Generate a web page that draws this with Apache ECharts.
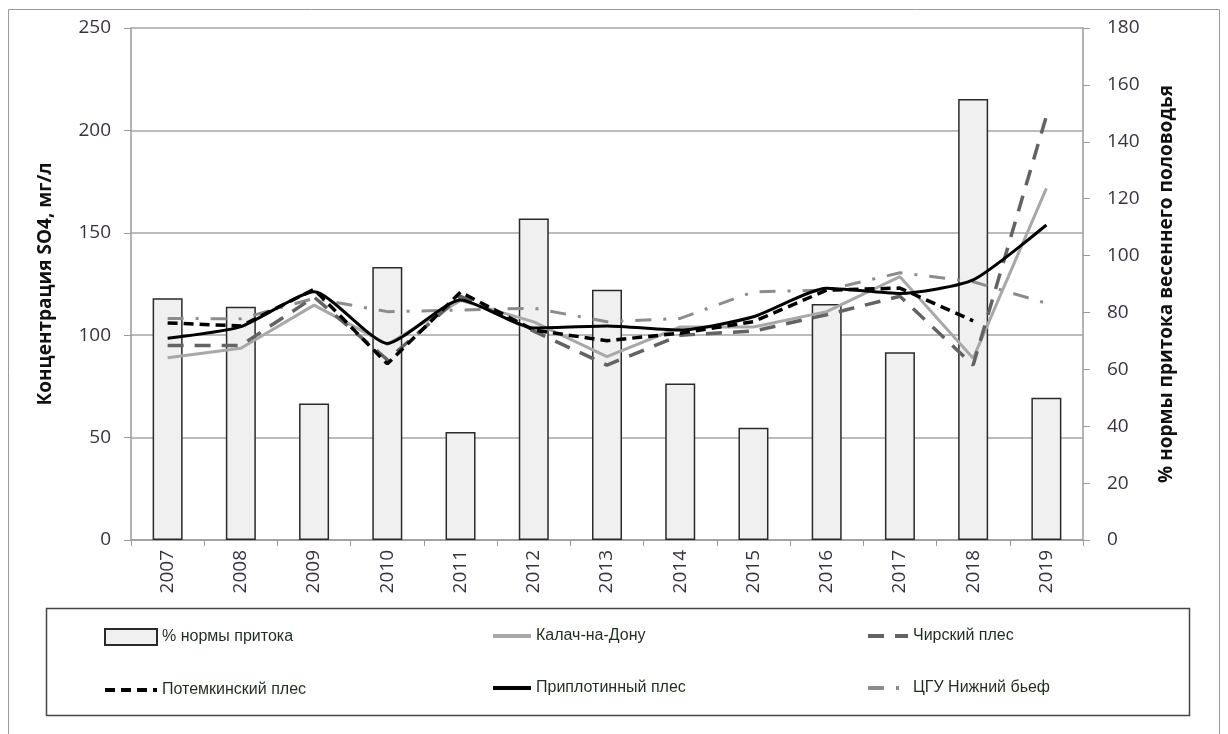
<!DOCTYPE html>
<html>
<head>
<meta charset="utf-8">
<script src="https://cdn.jsdelivr.net/npm/echarts@6/dist/echarts.min.js"></script>
<style>
html,body{margin:0;padding:0;background:#fff;}
#chart{width:1228px;height:734px;}
</style>
</head>
<body>
<div id="chart"></div>
<script>
const years = ['2007','2008','2009','2010','2011','2012','2013','2014','2015','2016','2017','2018','2019'];
const inflowPct = [85, 82, 48, 96, 38, 113, 88, 55, 39.5, 83, 66, 155, 50];
const kalach = [89, 93.6, 114.7, 95.5, 117, 106.5, 89.5, 104, 104, 111.5, 128.6, 88.7, 171.7];
const chirsky = [95, 95, 118.6, 88, 119, 102, 85.4, 100, 102, 110, 119, 85.4, 207];
const potemkin = [106, 104.5, 122.4, 86, 121, 102.5, 97.3, 101, 106.6, 122, 123, 107, null];
const priplot = [98.5, 104.2, 121.2, 96, 117.2, 103.5, 104.5, 102.5, 109, 122.9, 120.4, 127, 153.8];
const cgu = [108.2, 108, 118, 111.5, 112.3, 113.2, 106.6, 108.2, 121.2, 122, 130.5, 126.1, 115.6];
const leftTicks = {min: 0, max: 250, interval: 50};
const rightTicks = {min: 0, max: 180, interval: 20};

const names = ['% нормы притока','Калач-на-Дону','Чирский плес','Потемкинский плес','Приплотинный плес','ЦГУ Нижний бьеф'];
const labelColor = '#3a3242';
const legendText = {color: '#1f2f1f', fontSize: 16, fontFamily: 'Liberation Sans, sans-serif'};
const chart = echarts.init(document.getElementById('chart'));
const legendCommon = {
  orient: 'vertical', itemGap: 36, itemHeight: 16, padding: 0,
  textStyle: legendText, selectedMode: false
};
const hideSym = {opacity: 0};
const thick = {width: 4};
chart.setOption({
  animation: false,
  backgroundColor: '#fff',
  graphic: [
    {type: 'rect', shape: {x: 8.5, y: 9.5, width: 1211, height: 740}, style: {fill: 'none', stroke: '#9a9a9a', lineWidth: 1}, z: -1},
    {type: 'rect', shape: {x: 46.5, y: 608.5, width: 1143, height: 107}, style: {fill: 'none', stroke: '#444', lineWidth: 1.5}, z: -1}
  ],
  legend: [
    Object.assign({data: [{name: names[0], icon: 'rect'}, {name: names[3], itemStyle: hideSym, lineStyle: thick}], left: 103, top: 628, itemWidth: 52}, legendCommon),
    Object.assign({data: [{name: names[1], itemStyle: hideSym, lineStyle: thick}, {name: names[4], itemStyle: hideSym, lineStyle: thick}], left: 491, top: 628, itemWidth: 38}, legendCommon),
    Object.assign({data: [{name: names[2], itemStyle: hideSym, lineStyle: thick}, {name: names[5], itemStyle: hideSym, lineStyle: thick}], left: 866, top: 628, itemWidth: 40}, legendCommon)
  ],
  grid: {left: 131, right: 145, top: 28, bottom: 194, containLabel: false},
  xAxis: {
    type: 'category', data: years, boundaryGap: true,
    axisLine: {lineStyle: {color: '#9a9a9a', width: 1.5}},
    axisTick: {show: true, length: 6, lineStyle: {color: '#9a9a9a'}},
    axisLabel: {rotate: 90, color: labelColor, fontSize: 19, margin: 10, fontFamily: 'Open Sans, sans-serif'}
  },
  yAxis: [
    {
      type: 'value', min: leftTicks.min, max: leftTicks.max, interval: leftTicks.interval, position: 'left',
      name: 'Концентрация SO4, мг/л', nameLocation: 'middle', nameRotate: 90, nameGap: 76,
      nameTextStyle: {fontWeight: 'bold', fontSize: 19, color: '#111', fontFamily: 'Open Sans, sans-serif'},
      axisLine: {show: true, lineStyle: {color: '#9a9a9a', width: 1.5}},
      axisTick: {show: true, length: 7, lineStyle: {color: '#9a9a9a'}},
      axisLabel: {color: labelColor, fontSize: 19, margin: 20, fontFamily: 'Open Sans, sans-serif'},
      splitLine: {show: true, lineStyle: {color: '#a6a6a6', width: 1.5}}
    },
    {
      type: 'value', min: rightTicks.min, max: rightTicks.max, interval: rightTicks.interval, position: 'right',
      name: '% нормы притока весеннего половодья', nameLocation: 'middle', nameRotate: 90, nameGap: 74,
      nameTextStyle: {fontWeight: 'bold', fontSize: 19, color: '#111', fontFamily: 'Open Sans, sans-serif'},
      axisLine: {show: true, lineStyle: {color: '#9a9a9a', width: 1.5}},
      axisTick: {show: true, length: 7, lineStyle: {color: '#9a9a9a'}},
      axisLabel: {color: labelColor, fontSize: 19, margin: 24, fontFamily: 'Open Sans, sans-serif'},
      splitLine: {show: false}
    }
  ],
  series: [
    {name: names[0], type: 'bar', yAxisIndex: 1, data: inflowPct, barWidth: 30,
     itemStyle: {color: '#f0f0f0', borderColor: '#2a2a2a', borderWidth: 1.5}, z: 1},
    {name: names[1], type: 'line', data: kalach, symbol: 'none',
     lineStyle: {color: '#a8a8a8', width: 3}, itemStyle: {color: '#a8a8a8'}, z: 3},
    {name: names[2], type: 'line', data: chirsky, symbol: 'none',
     lineStyle: {color: '#636363', width: 3.5, type: [16, 11]}, itemStyle: {color: '#636363'}, z: 4},
    {name: names[3], type: 'line', data: potemkin, symbol: 'none',
     lineStyle: {color: '#000', width: 3.5, type: [10, 6]}, itemStyle: {color: '#000'}, z: 5},
    {name: names[4], type: 'line', data: priplot, symbol: 'none', smooth: 0.2,
     lineStyle: {color: '#000', width: 3}, itemStyle: {color: '#000'}, z: 6},
    {name: names[5], type: 'line', data: cgu, symbol: 'none',
     lineStyle: {color: '#8c8c8c', width: 3, type: [16, 12, 3, 12]}, itemStyle: {color: '#8c8c8c'}, z: 2}
  ]
});
</script>
</body>
</html>
